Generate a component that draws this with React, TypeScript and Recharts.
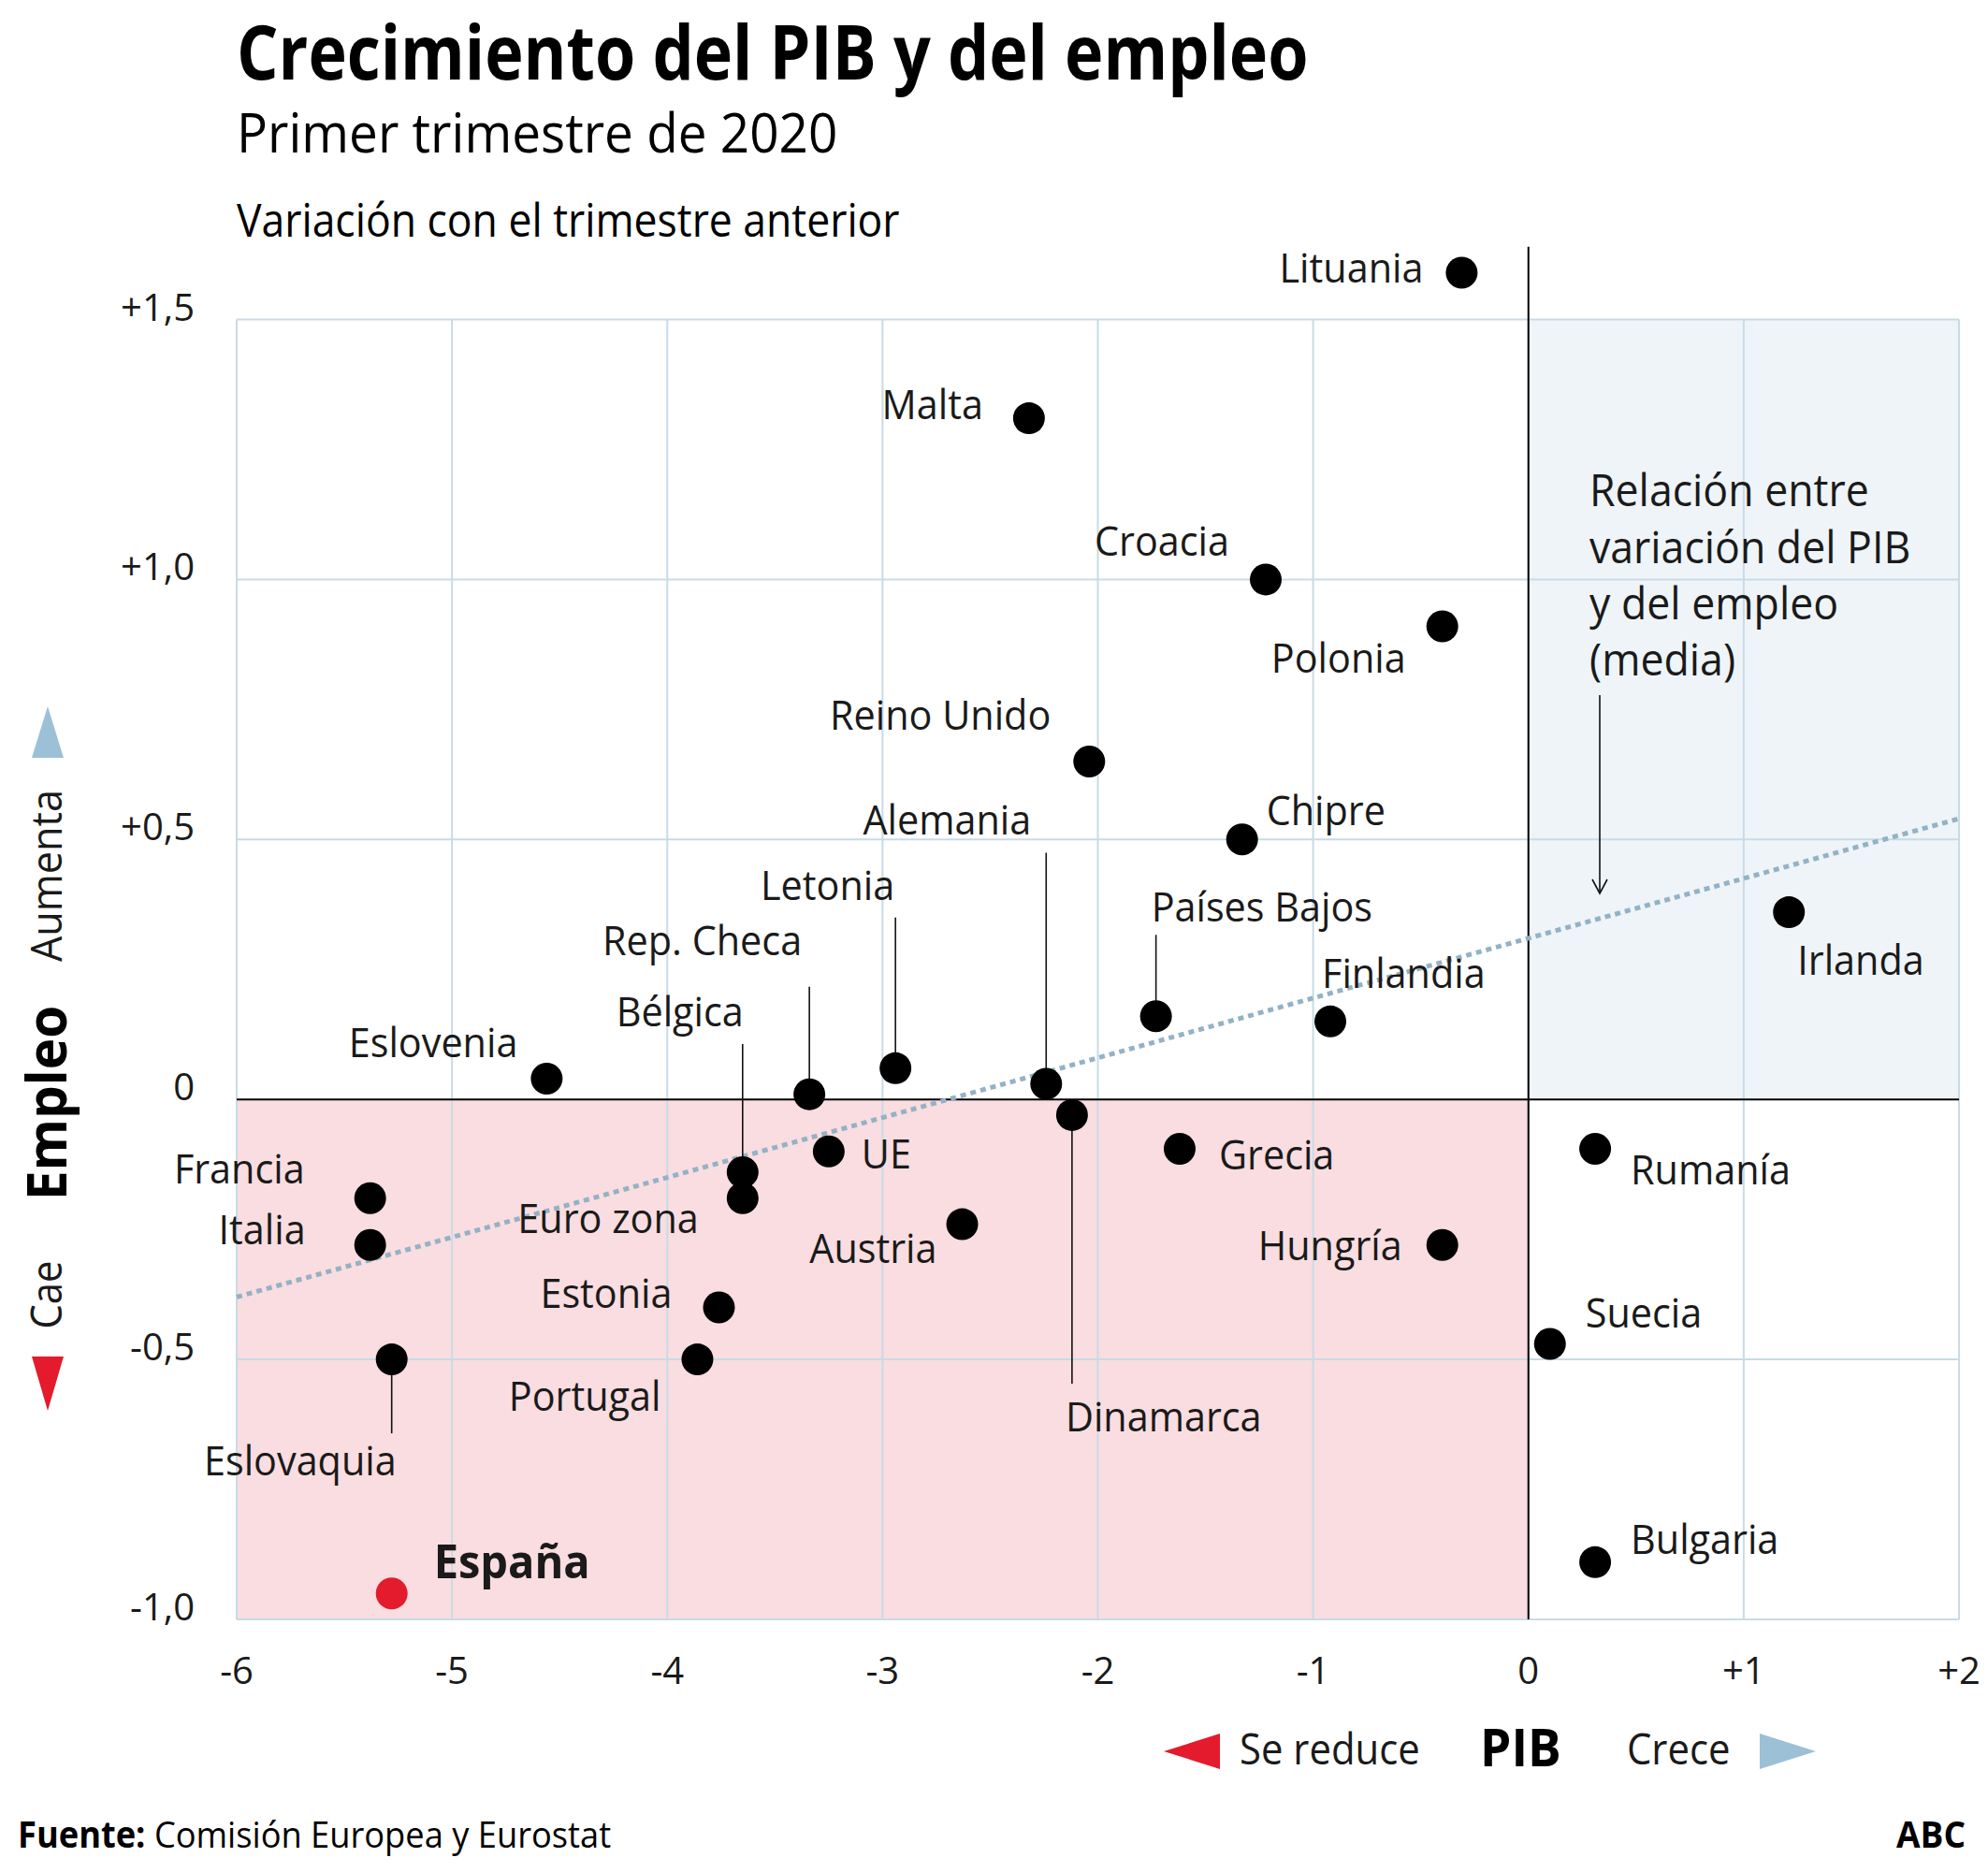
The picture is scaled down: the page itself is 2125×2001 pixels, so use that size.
import React from 'react';
import { ScatterChart, Scatter, XAxis, YAxis, ReferenceArea, ReferenceLine } from 'recharts';

// ---------- DATA ----------
const countries = [
  'Lituania', 'Malta', 'Croacia', 'Polonia', 'Reino Unido', 'Chipre', 'Irlanda',
  'Países Bajos', 'Finlandia', 'Eslovenia', 'Rep. Checa', 'Letonia', 'Alemania',
  'Dinamarca', 'Bélgica', 'UE', 'Euro zona', 'Grecia', 'Rumanía', 'Francia', 'Italia',
  'Austria', 'Hungría', 'Estonia', 'Portugal', 'Eslovaquia', 'Suecia', 'Bulgaria', 'España',
];
const gdpChange = [
  -0.31, -2.32, -1.22, -0.4, -2.04, -1.33, 1.21,
  -1.73, -0.92, -4.56, -3.34, -2.94, -2.24,
  -2.12, -3.65, -3.25, -3.65, -1.62, 0.31, -5.38, -5.38,
  -2.63, -0.4, -3.76, -3.86, -5.28, 0.1, 0.31, -5.28,
];
const employmentChange = [
  1.59, 1.31, 1.0, 0.91, 0.65, 0.5, 0.36,
  0.16, 0.15, 0.04, 0.01, 0.06, 0.03,
  -0.03, -0.14, -0.1, -0.19, -0.095, -0.095, -0.19, -0.28,
  -0.24, -0.28, -0.4, -0.5, -0.5, -0.47, -0.89, -0.95,
];
const highlighted = 'España';

const trendGdp = [-6, 2];
const trendEmployment = [-0.38, 0.54];

const xTicks = [-6, -5, -4, -3, -2, -1, 0, 1, 2];
const xTickLabels = ['-6', '-5', '-4', '-3', '-2', '-1', '0', '+1', '+2'];
const yTicks = [-1, -0.5, 0, 0.5, 1, 1.5];
const yTickLabels = ['-1,0', '-0,5', '0', '+0,5', '+1,0', '+1,5'];
const yGrid = [-1, -0.5, 0.5, 1, 1.5];

// ---------- LABEL LAYOUT (pixel offsets from the dot) ----------
type Lay = { dx: number; dy: number; anchor: 'start' | 'end' | 'middle'; leader?: number };
const labelLayout: Record<string, Lay> = {
  'Lituania': { dx: -41, dy: -5, anchor: 'end' },
  'Malta': { dx: -49, dy: -15, anchor: 'end' },
  'Croacia': { dx: -39, dy: -41, anchor: 'end' },
  'Polonia': { dx: -39, dy: 34, anchor: 'end' },
  'Reino Unido': { dx: -41, dy: -49, anchor: 'end' },
  'Chipre': { dx: 26, dy: -31, anchor: 'start' },
  'Irlanda': { dx: 9, dy: 51, anchor: 'start' },
  'Países Bajos': { dx: -5, dy: -117, anchor: 'start', leader: -87 },
  'Finlandia': { dx: -9, dy: -51, anchor: 'start' },
  'Eslovenia': { dx: -31, dy: -38, anchor: 'end' },
  'Rep. Checa': { dx: -8, dy: -164, anchor: 'end', leader: -115 },
  'Letonia': { dx: -1, dy: -195, anchor: 'end', leader: -161 },
  'Alemania': { dx: -16, dy: -282, anchor: 'end', leader: -247 },
  'Dinamarca': { dx: -7, dy: 323, anchor: 'start', leader: 287 },
  'Bélgica': { dx: 1, dy: -171, anchor: 'end', leader: -137 },
  'UE': { dx: 35, dy: 3, anchor: 'start' },
  'Euro zona': { dx: -47, dy: 22, anchor: 'end' },
  'Grecia': { dx: 42, dy: 7, anchor: 'start' },
  'Rumanía': { dx: 38, dy: 23, anchor: 'start' },
  'Francia': { dx: -70, dy: -31, anchor: 'end' },
  'Italia': { dx: -69, dy: -16, anchor: 'end' },
  'Austria': { dx: -27, dy: 26, anchor: 'end' },
  'Hungría': { dx: -43, dy: 1, anchor: 'end' },
  'Estonia': { dx: -50, dy: -15, anchor: 'end' },
  'Portugal': { dx: -39, dy: 39, anchor: 'end' },
  'Eslovaquia': { dx: 5, dy: 108, anchor: 'end', leader: 79 },
  'Suecia': { dx: 38, dy: -33, anchor: 'start' },
  'Bulgaria': { dx: 38, dy: -24, anchor: 'start' },
  'España': { dx: 45, dy: -34, anchor: 'start' },
};

const FONT = "'Open Sans', 'Noto Sans', sans-serif";
const GRID = '#c8dbe6';

// Text squeezed horizontally to imitate the narrow newspaper face
const T = (p: any) => {
  const { x, y, sx = 1, rot = 0, anchor = 'start', dy, children, ...rest } = p;
  return (
    <text
      transform={`translate(${x},${y}) rotate(${rot}) scale(${sx},1)`}
      textAnchor={anchor}
      dy={dy}
      fontFamily={FONT}
      {...rest}
    >
      {children}
    </text>
  );
};

const points = countries.map((name, i) => ({ name, x: gdpChange[i], y: employmentChange[i] }));

const DotShape = (props: any) => {
  const { cx, cy, payload } = props;
  const lay = labelLayout[payload.name] || { dx: 20, dy: 0, anchor: 'start' };
  const hl = payload.name === highlighted;
  return (
    <g>
      {lay.leader ? (
        <line x1={cx} y1={cy} x2={cx} y2={cy + lay.leader} stroke="#111" strokeWidth={1.6} />
      ) : null}
      <circle cx={cx} cy={cy} r={17} fill={hl ? '#e31b2c' : '#000'} />
      <T
        x={cx + lay.dx}
        y={cy + lay.dy}
        sx={0.94}
        dy="0.35em"
        anchor={lay.anchor}
        fontSize={hl ? 50 : 44}
        fontWeight={hl ? 700 : 400}
        fill="#1a1a1a"
      >
        {payload.name}
      </T>
    </g>
  );
};

const XTick = (props: any) => {
  const { x, y, payload } = props;
  const idx = xTicks.indexOf(payload.value);
  return (
    <text x={x} y={y + 55} dy="0.35em" textAnchor="middle" fontFamily={FONT} fontSize={40} fill="#1a1a1a">
      {idx >= 0 ? xTickLabels[idx] : ''}
    </text>
  );
};

const YTick = (props: any) => {
  const { x, y, payload } = props;
  const idx = yTicks.indexOf(payload.value);
  return (
    <text x={x - 45} y={y - 13} dy="0.35em" textAnchor="end" fontFamily={FONT} fontSize={40} fill="#1a1a1a">
      {idx >= 0 ? yTickLabels[idx] : ''}
    </text>
  );
};

export default function App() {
  return (
    <div style={{ position: 'absolute', left: 0, top: 0, width: 2125, height: 2001, background: '#fff' }}>
      <ScatterChart
        width={2125}
        height={2001}
        margin={{ top: 263.7, right: 31, bottom: 170, left: 0 }}
        style={{ overflow: 'visible' }}
      >
        <XAxis
          type="number"
          dataKey="x"
          domain={[-6, 2]}
          ticks={xTicks}
          interval={0}
          axisLine={false}
          tickLine={false}
          tickSize={0}
          tickMargin={0}
          height={100}
          tick={<XTick />}
        />
        <YAxis
          type="number"
          dataKey="y"
          domain={[-1, 1.64]}
          ticks={yTicks}
          interval={0}
          axisLine={false}
          tickLine={false}
          tickSize={0}
          tickMargin={0}
          width={253}
          tick={<YTick />}
        />
        <ReferenceArea x1={0} x2={2} y1={0} y2={1.5} fill="#eef4f8" fillOpacity={1} stroke="none" />
        <ReferenceArea x1={-6} x2={0} y1={-1} y2={0} fill="#f9dde0" fillOpacity={1} stroke="none" />
        {xTicks.map((t) => (
          <ReferenceLine
            key={'vx' + t}
            segment={[{ x: t, y: -1 }, { x: t, y: 1.5 }]}
            stroke={GRID}
            strokeWidth={2}
          />
        ))}
        {yGrid.map((t) => (
          <ReferenceLine
            key={'hy' + t}
            segment={[{ x: -6, y: t }, { x: 2, y: t }]}
            stroke={GRID}
            strokeWidth={2}
          />
        ))}
        <ReferenceLine segment={[{ x: -6, y: 0 }, { x: 2, y: 0 }]} stroke="#000" strokeWidth={2} />
        <ReferenceLine segment={[{ x: 0, y: -1 }, { x: 0, y: 1.64 }]} stroke="#000" strokeWidth={2} />
        <ReferenceLine
          segment={[
            { x: trendGdp[0], y: trendEmployment[0] },
            { x: trendGdp[1], y: trendEmployment[1] },
          ]}
          stroke="#94b2c5"
          strokeWidth={5}
          strokeDasharray="6 5"
        />
        <Scatter data={points} isAnimationActive={false} shape={<DotShape />} />
      </ScatterChart>

      <svg
        width={2125}
        height={2001}
        style={{ position: 'absolute', left: 0, top: 0, pointerEvents: 'none' }}
      >
        <T x={253} y={85} sx={0.875} fontSize={80} fontWeight={700} fill="#000">Crecimiento del PIB y del empleo</T>
        <T x={253} y={163} sx={0.93} fontSize={59} fill="#000">Primer trimestre de 2020</T>
        <T x={253} y={253} sx={0.89} fontSize={50} fill="#000">Variación con el trimestre anterior</T>

        {/* Annotation */}
        <T x={1699} y={524} sx={0.93} dy="0.35em" fontSize={48} fill="#1a1a1a">Relación entre</T>
        <T x={1699} y={585} sx={0.93} dy="0.35em" fontSize={48} fill="#1a1a1a">variación del PIB</T>
        <T x={1699} y={645} sx={0.93} dy="0.35em" fontSize={48} fill="#1a1a1a">y del empleo</T>
        <T x={1699} y={705} sx={0.93} dy="0.35em" fontSize={48} fill="#1a1a1a">(media)</T>
        <line x1={1710} y1={743} x2={1710} y2={955} stroke="#111" strokeWidth={1.6} />
        <polyline points="1702,940 1710,955 1718,940" fill="none" stroke="#111" strokeWidth={1.6} />

        {/* Y axis title */}
        <polygon points="34,810 68,810 51,755" fill="#9cc0d6" />
        <T x={50} y={936} rot={-90} sx={0.96} anchor="middle" dy="0.35em" fontSize={45} fill="#1a1a1a">Aumenta</T>
        <T x={50} y={1179} rot={-90} sx={0.94} anchor="middle" dy="0.35em" fontSize={60} fontWeight={700} fill="#000">Empleo</T>
        <T x={50} y={1384} rot={-90} sx={0.93} anchor="middle" dy="0.35em" fontSize={45} fill="#1a1a1a">Cae</T>
        <polygon points="34,1450 68,1450 51,1508" fill="#e31b2c" />

        {/* X axis title */}
        <polygon points="1244,1872 1304,1853 1304,1891" fill="#e31b2c" />
        <T x={1325} y={1870} sx={0.93} dy="0.35em" fontSize={45} fill="#1a1a1a">Se reduce</T>
        <T x={1582} y={1868} sx={0.95} dy="0.35em" fontSize={56} fontWeight={700} fill="#000">PIB</T>
        <T x={1739} y={1870} sx={0.93} dy="0.35em" fontSize={45} fill="#1a1a1a">Crece</T>
        <polygon points="1881,1853 1881,1891 1941,1872" fill="#9cc0d6" />

        {/* Footer */}
        <T x={19} y={1961} sx={0.93} dy="0.35em" fontSize={39} fill="#000">
          <tspan fontWeight={700}>Fuente:</tspan>
          <tspan> Comisión Europea y Eurostat</tspan>
        </T>
        <T x={2101} y={1961} sx={0.95} anchor="end" dy="0.35em" fontSize={39} fontWeight={700} fill="#000">ABC</T>
      </svg>
    </div>
  );
}
